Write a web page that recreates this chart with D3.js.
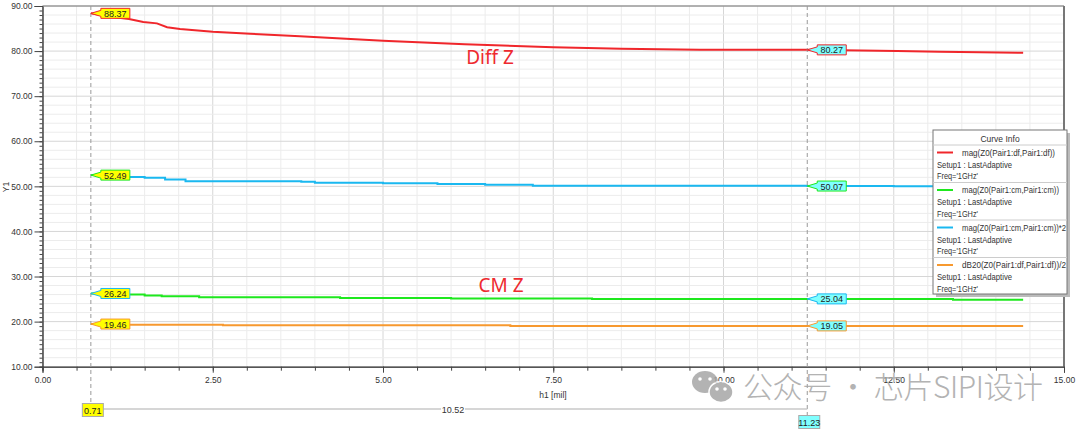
<!DOCTYPE html>
<html>
<head>
<meta charset="utf-8">
<script src="https://cdn.jsdelivr.net/npm/d3@7"></script>
<style>
  body { margin: 0; background: #fff; }
  svg { display: block; font-family: "Liberation Sans", Arial, sans-serif; }
</style>
</head>
<body>
<svg id="chart" width="1080" height="431"></svg>
<script>
(function() {
  var svg, x, y, lineGen, stepGen, series, legend;

  // h1 [mil] sweep and the four curves
  var diffH = [0.71, 1.0, 1.27, 1.48, 1.68, 1.83, 2.02, 2.5, 3.05, 3.78, 5.0, 6.2, 7.5, 8.5, 9.65, 11.23, 12.55, 13.18, 13.77, 14.4];
  var diffZ = [88.37, 87.6, 87.1, 86.45, 86.15, 85.3, 84.9, 84.3, 83.85, 83.3, 82.3, 81.5, 80.85, 80.5, 80.3, 80.27, 80.0, 79.85, 79.72, 79.64];

  var cmH = [0.71, 1.1, 1.5, 1.75, 2.3, 4.37, 6.0, 8.07, 13.37, 14.4];
  var cmZ = [26.24, 26.0, 25.8, 25.6, 25.4, 25.25, 25.12, 25.04, 24.85, 24.85];

  var cm2H = [0.71, 1.1, 1.5, 1.8, 2.1, 3.8, 4.0, 5.0, 5.8, 6.5, 7.2, 11.23, 12.5, 14.4];
  var cm2Z = [52.49, 52.1, 51.9, 51.5, 51.15, 51.0, 50.8, 50.7, 50.5, 50.35, 50.15, 50.07, 50.0, 49.9];

  var dbH = [0.71, 0.9, 2.65, 6.87, 14.4];
  var dbZ = [19.46, 19.3, 19.2, 19.05, 19.05];

  var cursorH = [0.71, 11.23];
  var cursorA_vals = [88.37, 52.49, 26.24, 19.46];
  var cursorB_vals = [80.27, 50.07, 25.04, 19.05];

  var yTicks = [10, 20, 30, 40, 50, 60, 70, 80, 90];
  var xTicks = [0, 2.5, 5, 7.5, 10, 12.5, 15];

  var curveNames = ['mag(Z0(Pair1:df,Pair1:df))', 'mag(Z0(Pair1:cm,Pair1:cm))', 'mag(Z0(Pair1:cm,Pair1:cm))*2', 'dB20(Z0(Pair1:df,Pair1:df))/2'];
  var curveColors = ['#f0262b', '#1ee81e', '#1ab8f0', '#f7992f'];
  var nameWidths = [93, 97, 104, 104];

  svg = d3.select('#chart');
  x = d3.scaleLinear().domain([0, 15]).range([42.5, 1064]);
  y = d3.scaleLinear().domain([10, 90]).range([366.7, 6]);

  // grid
  var grid = svg.append('g');
  grid.selectAll('line.xmin').data(d3.range(0, 15.01, 0.5)).enter().append('line')
    .attr('x1', function(d) { return x(d); }).attr('x2', function(d) { return x(d); })
    .attr('y1', y(90)).attr('y2', y(10))
    .attr('stroke', function(d) { return d % 2.5 === 0 ? '#d6d6d6' : '#ececec'; }).attr('stroke-width', 1);
  grid.selectAll('line.ymin').data(d3.range(10, 90.01, 2)).enter().append('line')
    .attr('y1', function(d) { return y(d); }).attr('y2', function(d) { return y(d); })
    .attr('x1', x(0)).attr('x2', x(15))
    .attr('stroke', function(d) { return d % 10 === 0 ? '#d6d6d6' : '#ececec'; }).attr('stroke-width', 1);

  // frame
  svg.append('line').attr('x1', x(0)).attr('x2', x(15)).attr('y1', y(90)).attr('y2', y(90)).attr('stroke', '#777');
  svg.append('line').attr('x1', x(15)).attr('x2', x(15)).attr('y1', y(90)).attr('y2', y(10)).attr('stroke', '#777').attr('stroke-width', 2);

  // axes
  var yMinor = svg.append('g').attr('transform', 'translate(' + x(0) + ',0)')
    .call(d3.axisLeft(y).tickValues(d3.range(10, 90.01, 1)).tickSize(3).tickFormat(''));
  var yAxis = svg.append('g').attr('transform', 'translate(' + x(0) + ',0)')
    .call(d3.axisLeft(y).tickValues(yTicks).tickSize(8).tickPadding(2).tickFormat(d3.format('.2f')));
  var xMinor = svg.append('g').attr('transform', 'translate(0,' + y(10) + ')')
    .call(d3.axisBottom(x).tickValues(d3.range(0, 15.01, 0.5)).tickSize(4).tickFormat(''));
  var xAxis = svg.append('g').attr('transform', 'translate(0,' + y(10) + ')')
    .call(d3.axisBottom(x).tickValues(xTicks).tickSize(6).tickPadding(4).tickFormat(d3.format('.2f')));
  [yMinor, yAxis, xMinor, xAxis].forEach(function(g) {
    g.select('.domain').attr('stroke', '#444');
    g.selectAll('.tick line').attr('stroke', '#444');
    g.selectAll('text').attr('font-size', 8.5).attr('fill', '#333').attr('font-family', '"Liberation Sans", Arial, sans-serif');
  });

  svg.append('text').attr('transform', 'translate(9,187) rotate(-90)')
    .attr('text-anchor', 'middle').attr('font-size', 8.5).attr('fill', '#333').text('Y1');
  svg.append('text').attr('x', 553).attr('y', 398)
    .attr('text-anchor', 'middle').attr('font-size', 8.5).attr('fill', '#333').text('h1  [mil]');

  // curves
  lineGen = d3.line().x(function(d) { return x(d[0]); }).y(function(d) { return y(d[1]); });
  stepGen = d3.line().curve(d3.curveStepAfter).x(function(d) { return x(d[0]); }).y(function(d) { return y(d[1]); });
  series = [
    { h: diffH, z: diffZ, gen: lineGen },
    { h: cmH, z: cmZ, gen: stepGen },
    { h: cm2H, z: cm2Z, gen: stepGen },
    { h: dbH, z: dbZ, gen: stepGen }
  ];
  series.forEach(function(s, i) {
    svg.append('path').datum(d3.zip(s.h, s.z))
      .attr('d', s.gen).attr('fill', 'none')
      .attr('stroke', curveColors[i]).attr('stroke-width', 2);
  });

  // annotations
  svg.append('text').attr('x', 490).attr('y', 64).attr('text-anchor', 'middle')
    .attr('font-family', '"Noto Sans", sans-serif').attr('font-size', 19).attr('fill', '#ee2a2f').text('Diff Z');
  svg.append('text').attr('x', 501).attr('y', 292).attr('text-anchor', 'middle')
    .attr('font-family', '"Noto Sans", sans-serif').attr('font-size', 19).attr('fill', '#ee2a2f').text('CM Z');

  // cursors
  var cursorEnd = [409, 415];
  cursorH.forEach(function(h, i) {
    svg.append('line').attr('x1', x(h)).attr('x2', x(h)).attr('y1', y(90)).attr('y2', cursorEnd[i])
      .attr('stroke', '#999').attr('stroke-dasharray', '4,3');
  });

  function marker(cx, val, border, fill) {
    var cy = y(val), bx = cx + 10, w = 29, top = cy - 5, bot = cy + 5;
    var pts = [[cx, cy], [bx, cy - 3], [bx, top], [bx + w, top], [bx + w, bot], [bx, bot], [bx, cy + 3]];
    svg.append('polygon').attr('points', pts.map(function(p) { return p.join(','); }).join(' '))
      .attr('fill', fill).attr('stroke', border).attr('stroke-width', 1);
    svg.append('text').attr('x', bx + w / 2).attr('y', cy + 3.5).attr('text-anchor', 'middle')
      .attr('font-size', 9).attr('fill', '#222').text(d3.format('.2f')(val));
  }
  cursorA_vals.forEach(function(v, i) { marker(x(cursorH[0]), v, curveColors[i], '#ffff00'); });
  cursorB_vals.forEach(function(v, i) { marker(x(cursorH[1]), v, curveColors[i], '#80ffff'); });

  // cursor boxes at bottom and delta line
  svg.append('line').attr('x1', x(cursorH[0]) + 9).attr('x2', x(cursorH[1])).attr('y1', 409).attr('y2', 409)
    .attr('stroke', '#c8c8c8').attr('stroke-width', 1.5);
  svg.append('rect').attr('x', 441).attr('y', 403).attr('width', 24).attr('height', 12).attr('fill', '#fff');
  svg.append('text').attr('x', 453).attr('y', 412.5).attr('text-anchor', 'middle').attr('font-size', 9).attr('fill', '#333')
    .text(d3.format('.2f')(cursorH[1] - cursorH[0]));
  var boxY = [403.5, 415.5], boxFill = ['#ffff00', '#80ffff'];
  cursorH.forEach(function(h, i) {
    svg.append('rect').attr('x', x(h) - 8.5).attr('y', boxY[i]).attr('width', 21).attr('height', 13)
      .attr('fill', boxFill[i]).attr('stroke', '#aaa');
    svg.append('text').attr('x', x(h) + 2).attr('y', boxY[i] + 10).attr('text-anchor', 'middle')
      .attr('font-size', 9).attr('fill', '#222').text(d3.format('.2f')(h));
  });

  // legend
  legend = svg.append('g').attr('transform', 'translate(933,130)');
  legend.append('rect').attr('x', 3).attr('y', 3).attr('width', 134).attr('height', 164).attr('fill', '#bbb');
  legend.append('rect').attr('x', 0).attr('y', 0).attr('width', 134).attr('height', 164).attr('fill', '#fff').attr('stroke', '#777');
  legend.append('text').attr('x', 67).attr('y', 11.5).attr('text-anchor', 'middle').attr('font-size', 8.5).attr('fill', '#333').text('Curve Info');
  curveNames.forEach(function(name, i) {
    var top = 15 + i * 37.5;
    legend.append('line').attr('x1', 0).attr('x2', 134).attr('y1', top).attr('y2', top).attr('stroke', '#ccc');
    legend.append('line').attr('x1', 4).attr('x2', 20).attr('y1', top + 7.5).attr('y2', top + 7.5)
      .attr('stroke', curveColors[i]).attr('stroke-width', 2);
    legend.append('text').attr('x', 29).attr('y', top + 10.5).attr('font-size', 8.5).attr('fill', '#333')
      .attr('textLength', nameWidths[i]).attr('lengthAdjust', 'spacingAndGlyphs').text(name);
    legend.append('text').attr('x', 4).attr('y', top + 22.5).attr('font-size', 8.5).attr('fill', '#333')
      .attr('textLength', 75).attr('lengthAdjust', 'spacingAndGlyphs').text('Setup1 : LastAdaptive');
    legend.append('text').attr('x', 4).attr('y', top + 34).attr('font-size', 8.5).attr('fill', '#333')
      .attr('textLength', 41).attr('lengthAdjust', 'spacingAndGlyphs').text("Freq='1GHz'");
  });

  // watermark
  var wm = svg.append('g').attr('opacity', 0.85);
  wm.append('ellipse').attr('cx', 705).attr('cy', 382).attr('rx', 13).attr('ry', 11).attr('fill', '#a6a6a6');
  wm.append('ellipse').attr('cx', 721).attr('cy', 392).attr('rx', 12).attr('ry', 10.5).attr('fill', '#a6a6a6').attr('stroke', '#fff').attr('stroke-width', 1.5);
  [[700, 379], [710, 379], [717, 389], [725, 389]].forEach(function(p) {
    wm.append('circle').attr('cx', p[0]).attr('cy', p[1]).attr('r', 1.8).attr('fill', '#fff');
  });
  wm.append('text').attr('x', 743).attr('y', 398).attr('font-size', 30)
    .attr('font-family', '"Noto Sans CJK SC", sans-serif').attr('font-weight', 300).attr('fill', '#a6a6a6')
    .attr('textLength', 300).text('公众号 · 芯片SIPI设计');
}).call(this);
</script>
</body>
</html>
